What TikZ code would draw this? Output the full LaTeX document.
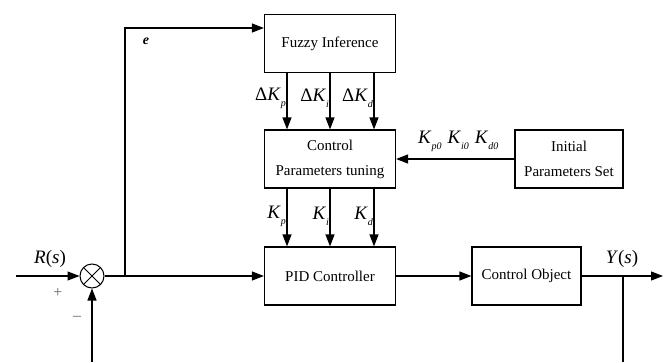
\documentclass[tikz,border=0pt]{standalone}
\usepackage{fontspec}
\setmainfont{Liberation Serif}
\usetikzlibrary{arrows.meta}
\newcommand\mysub[2]{\textit{#1}\raisebox{-6pt}{\fontsize{10}{10}\selectfont\textit{#2}}}
\begin{document}
\begin{tikzpicture}[x=1pt,y=-1pt,
  block/.style={draw,line width=1.2pt,minimum width=131pt,minimum height=58pt,inner sep=0pt,
    align=center,font=\fontsize{15}{25}\selectfont},
  arr/.style={line width=1.2pt,-{Triangle[length=12pt,width=9pt]}},
  ln/.style={line width=1.2pt},
  lbl/.style={inner sep=0pt,font=\fontsize{19}{19}\selectfont},
  sgn/.style={inner sep=0pt,text=black!60,font=\fontsize{16}{16}\selectfont}]
\useasboundingbox (0,0) rectangle (670,362);
% blocks
\node[block] (fuzzy) at (330,43.5) {Fuzzy Inference};
\node[block] (tune) at (330,159) {Control\\Parameters tuning};
\node[block] (pid) at (330,276) {PID Controller};
\node[block,minimum width=109pt] (obj) at (526.5,276) {Control Object};
\node[block,minimum width=108pt] (init) at (569,159) {Initial\\Parameters Set};
\node[draw,circle,line width=1pt,minimum size=24pt,inner sep=0pt] (sum) at (92,276) {};
\draw[line width=0.8pt] (sum.north west) -- (sum.south east) (sum.north east) -- (sum.south west);
% coordinates
\coordinate (in) at (16,276);
\coordinate (j) at (125,276);
\coordinate (br) at (623,276);
\coordinate (out) at (663,276);
\coordinate (ybot) at (623,362);
\coordinate (fbot) at (92,362);
% connectors
\draw[arr] (in) -- (sum.west);
\draw[arr] (sum.east) -- (pid.west);
\draw[arr] (j) |- ([yshift=15.5pt]fuzzy.west);
\foreach \dx in {-43,0,44}{
  \draw[arr] ([xshift=\dx pt]fuzzy.south) -- ([xshift=\dx pt]tune.north);
  \draw[arr] ([xshift=\dx pt]tune.south) -- ([xshift=\dx pt]pid.north);
}
\draw[arr] (init.west) -- (tune.east);
\draw[arr] (pid.east) -- (obj.west);
\draw[arr] (obj.east) -- (out);
\draw[ln] (br) -- (ybot);
\draw[arr] (fbot) -- (sum.south);
% labels
\node[inner sep=0pt,font=\fontsize{14}{14}\selectfont\bfseries\itshape] (le) at (146,41) {e};
\node[lbl,anchor=east] (ldp) at (286,98) {Δ\mysub{K}{p}};
\node[lbl,anchor=east] (ldi) at (329,98) {Δ\mysub{K}{i}};
\node[lbl,anchor=east] (ldd) at (373,98) {Δ\mysub{K}{d}};
\node[lbl,anchor=east] (lkp) at (286,216) {\mysub{K}{p}};
\node[lbl,anchor=east] (lki) at (329,216) {\mysub{K}{i}};
\node[lbl,anchor=east] (lkd) at (373,216) {\mysub{K}{d}};
\node[lbl,anchor=west] (lk0) at (418,141) {\mysub{K}{p0}\hspace{6pt}\mysub{K}{i0}\hspace{6pt}\mysub{K}{d0}};
\node[lbl] (lr) at (50,259) {\textit{R}(\textit{s})};
\node[lbl] (ly) at (622,259) {\textit{Y}(\textit{s})};
\node[sgn] (lplus) at (58,293) {+};
\node[sgn] (lminus) at (77,318) {–};
\end{tikzpicture}
\end{document}
